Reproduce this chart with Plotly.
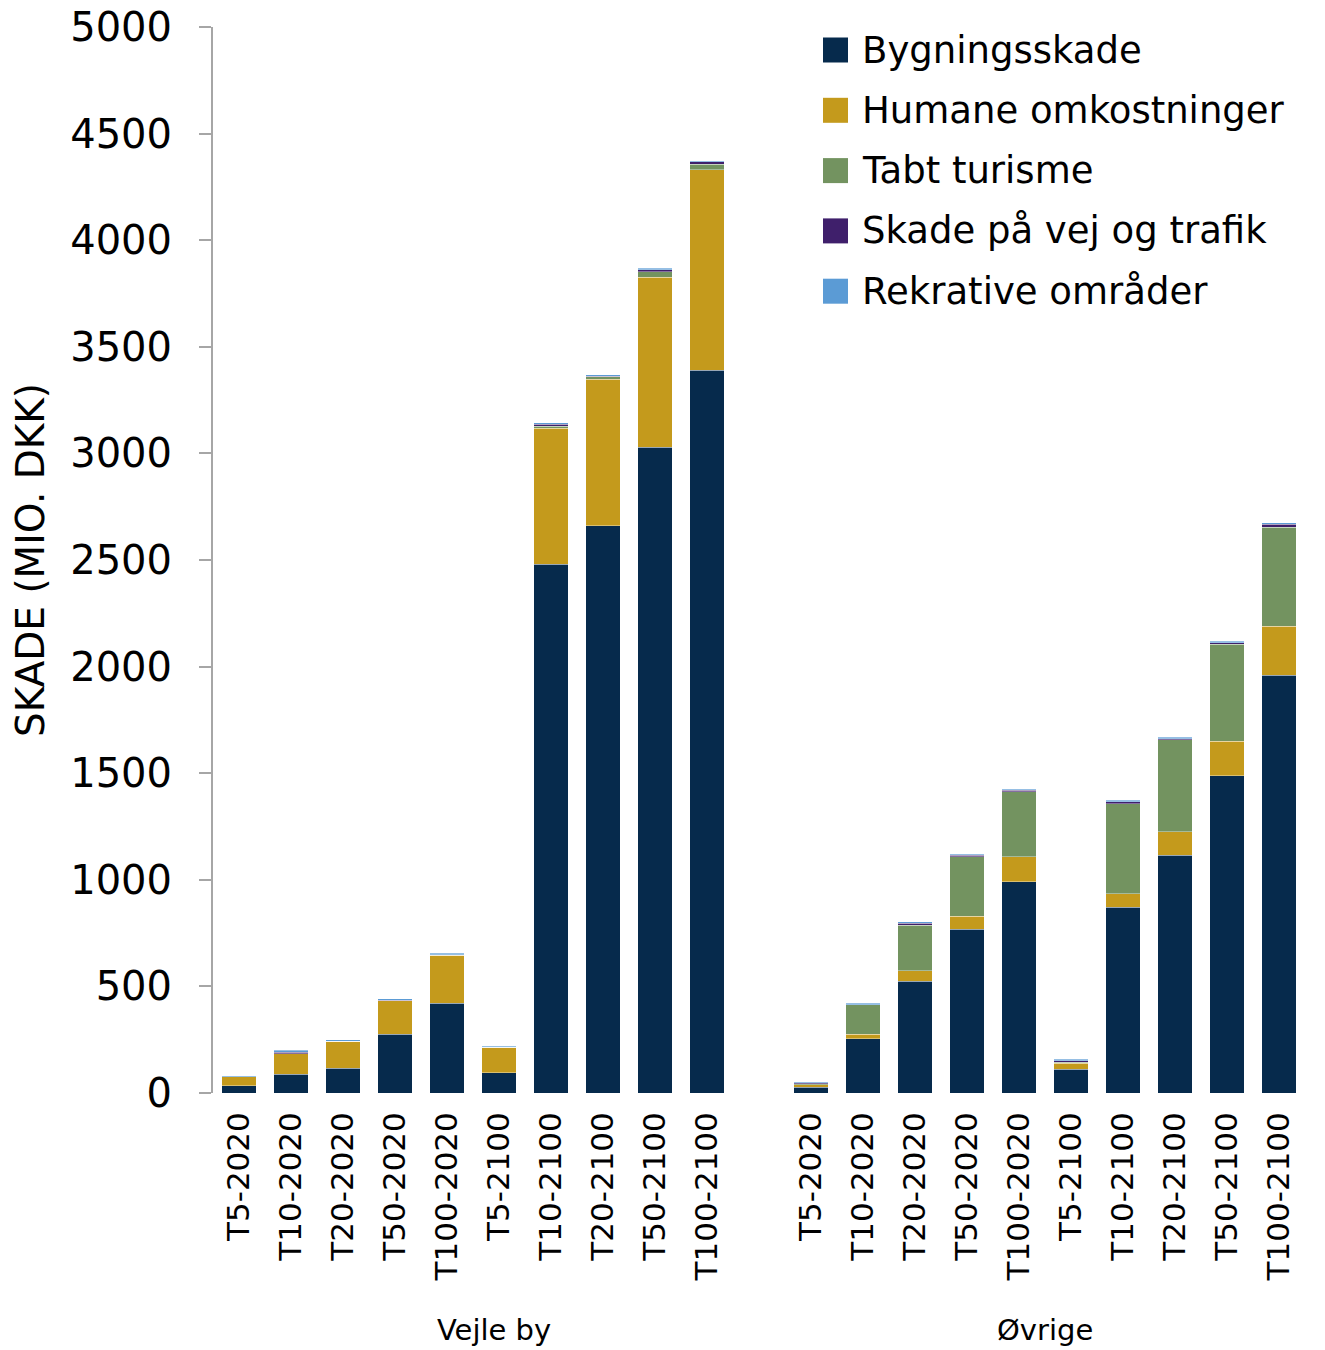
import plotly.graph_objects as go

categories = ["T5-2020", "T10-2020", "T20-2020", "T50-2020", "T100-2020",
              "T5-2100", "T10-2100", "T20-2100", "T50-2100", "T100-2100"]
groups = ["Vejle by", "Øvrige"]

series_names = ["Bygningsskade", "Humane omkostninger", "Tabt turisme",
                "Skade på vej og trafik", "Rekrative områder"]

# Vejle by
vejle_bygning = [33, 88, 116, 275, 421, 95, 2481, 2661, 3028, 3391]
vejle_humane = [44, 96, 126, 158, 226, 119, 638, 686, 798, 939]
vejle_turisme = [0, 0, 0, 0, 0, 0, 8, 12, 26, 27]
vejle_vej = [0, 8, 1, 2, 2, 0, 10, 3, 10, 11]
vejle_rekr = [5, 8, 6, 7, 6, 5, 6, 6, 6, 5]

# Øvrige
ovr_bygning = [27, 255, 525, 768, 990, 111, 872, 1116, 1488, 1960]
ovr_humane = [12, 20, 49, 62, 118, 28, 63, 109, 161, 229]
ovr_turisme = [5, 138, 212, 277, 305, 5, 422, 431, 456, 464]
ovr_vej = [3, 2, 10, 8, 6, 8, 10, 6, 8, 14]
ovr_rekr = [6, 6, 7, 6, 5, 6, 7, 6, 7, 8]

colors = ["#062A4C", "#C49A1C", "#739360", "#3F1F6B", "#5B9BD5"]

y_ticks = [0, 500, 1000, 1500, 2000, 2500, 3000, 3500, 4000, 4500, 5000]

FONT = "DejaVu Sans"

W, H = 1325, 1350
ML, MR, MT, MB = 213, 20, 27, 257
plot_w = W - ML - MR
plot_h = H - MT - MB

n = len(categories)
gap = 1
positions = list(range(n)) + [i + n + gap for i in range(n)]
ticktext = categories + categories

vejle = [vejle_bygning, vejle_humane, vejle_turisme, vejle_vej, vejle_rekr]
ovr = [ovr_bygning, ovr_humane, ovr_turisme, ovr_vej, ovr_rekr]

fig = go.Figure()
for k, name in enumerate(series_names):
    fig.add_trace(go.Bar(
        x=positions,
        y=vejle[k] + ovr[k],
        name=name,
        showlegend=False,
        marker=dict(color=colors[k], line=dict(width=0.6, color="rgba(255,255,255,0.6)")),
        width=0.66,
    ))

total_slots = 2 * n + gap
fig.update_layout(
    barmode="stack",
    width=W, height=H,
    margin=dict(l=ML, r=MR, t=MT, b=MB, autoexpand=False),
    plot_bgcolor="white", paper_bgcolor="white",
    font=dict(family=FONT, color="black"),
    xaxis=dict(
        range=[-0.5, total_slots - 0.5], automargin=False,
        tickmode="array", tickvals=positions, ticktext=ticktext,
        tickangle=-90, tickfont=dict(family=FONT, size=31, color="black"),
        showgrid=False, showline=False, zeroline=False, ticks="",
        ticklabelstandoff=12,
    ),
    yaxis=dict(
        range=[0, 5000], tickmode="array", tickvals=y_ticks, automargin=False,
        tickfont=dict(family=FONT, size=40, color="black"),
        showgrid=False, zeroline=False,
        showline=True, linecolor="#A6A6A6", linewidth=2,
        ticks="outside", ticklen=12, tickcolor="#A6A6A6", tickwidth=2,
        ticklabelstandoff=19,
    ),
)

# manual legend (large square swatches like the original)
leg_x0_px, sw = 823, 25
row0_px, row_step = 50, 60.3
for k, name in enumerate(series_names):
    yc = row0_px + row_step * k
    fig.add_shape(type="rect", xref="paper", yref="paper",
                  x0=(leg_x0_px - ML) / plot_w, x1=(leg_x0_px + sw - ML) / plot_w,
                  y0=(H - MB - (yc + sw / 2)) / plot_h, y1=(H - MB - (yc - sw / 2)) / plot_h,
                  fillcolor=colors[k], line=dict(width=0))
    fig.add_annotation(x=(leg_x0_px + 37 - ML) / plot_w, y=(H - MB - yc) / plot_h,
                       xref="paper", yref="paper", text=name, showarrow=False,
                       xanchor="left", yanchor="middle",
                       font=dict(family=FONT, size=37, color="black"))

# group labels
group_offsets = [0.4, 0.0]
for g, label in enumerate(groups):
    center = (positions[g * n] + positions[g * n + n - 1]) / 2 + group_offsets[g]
    fig.add_annotation(x=center, y=(H - MB - 1330) / plot_h, xref="x", yref="paper",
                       text=label, showarrow=False,
                       font=dict(family=FONT, size=29, color="black"),
                       xanchor="center", yanchor="middle")

fig.add_annotation(x=(30 - ML) / plot_w, y=0.5, xref="paper", yref="paper",
                   text="SKADE (MIO. DKK)", textangle=-90, showarrow=False,
                   font=dict(family=FONT, size=39, color="black"),
                   xanchor="center", yanchor="middle")

fig.write_html("out.html", config={"displayModeBar": False},
               post_script="document.body.style.margin='0px';")
